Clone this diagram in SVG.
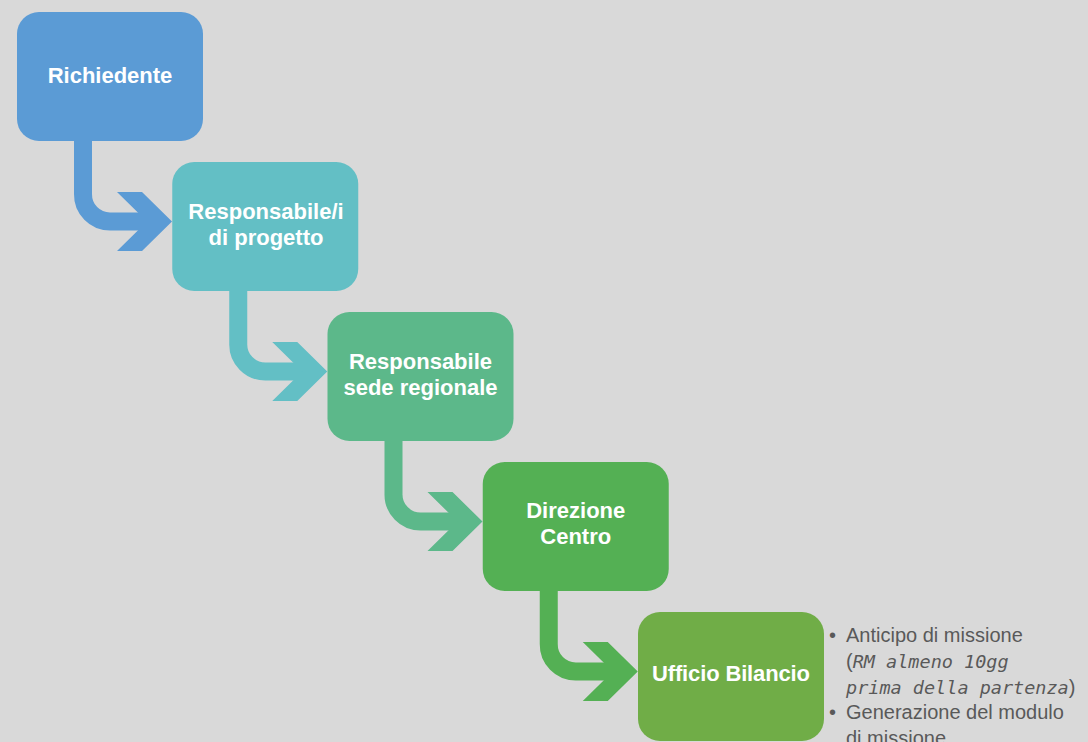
<svg xmlns="http://www.w3.org/2000/svg" xmlns:xlink="http://www.w3.org/1999/xlink" width="1088" height="742" viewBox="0 0 1088 742">
  <style>
    .box { stroke: none; }
    .lbl { font-family: "Liberation Sans", Arial, sans-serif; font-weight: bold; font-size: 22px; fill: #ffffff; text-anchor: middle; }
    .note { font-family: "Liberation Sans", Arial, sans-serif; font-size: 20px; fill: #595959; }
    .mono { font-family: "DejaVu Sans Mono", "Liberation Mono", monospace; font-style: italic; font-size: 18.5px; }
  </style>
  <defs>
    <!-- bent arrow: drops from a box bottom, turns right, ends in a chevron -->
    <g id="bend">
      <path d="M83 141 V194 A27 27 0 0 0 110 221.5 H150" fill="none" stroke="currentColor" stroke-width="18"/>
      <polygon points="117,192 142,192 172,221.5 142,251 117,251 147,221.5" fill="currentColor"/>
    </g>
  </defs>

  <rect width="1088" height="742" fill="#d9d9d9"/>

  <g id="connectors">
    <use xlink:href="#bend" href="#bend" x="0" y="0" style="color:#5b9bd5"/>
    <use xlink:href="#bend" href="#bend" x="155.25" y="150" style="color:#63bfc5"/>
    <use xlink:href="#bend" href="#bend" x="310.5" y="300" style="color:#5cb88a"/>
    <use xlink:href="#bend" href="#bend" x="465.75" y="450" style="color:#54b054"/>
  </g>

  <g id="richiedente">
    <rect class="box" x="17" y="12" width="186" height="129" rx="22" fill="#5b9bd5"/>
    <text class="lbl" x="110" y="83">Richiedente</text>
  </g>

  <g id="responsabile-progetto">
    <rect class="box" x="172.25" y="162" width="186" height="129" rx="22" fill="#63bfc5"/>
    <text class="lbl" x="266" y="218.5">Responsabile/i</text>
    <text class="lbl" x="266" y="245">di progetto</text>
  </g>

  <g id="responsabile-sede">
    <rect class="box" x="327.5" y="312" width="186" height="129" rx="22" fill="#5cb88a"/>
    <text class="lbl" x="420.5" y="368.5">Responsabile</text>
    <text class="lbl" x="420.5" y="395">sede regionale</text>
  </g>

  <g id="direzione-centro">
    <rect class="box" x="482.75" y="462" width="186" height="129" rx="22" fill="#54b054"/>
    <text class="lbl" x="575.75" y="517.5">Direzione</text>
    <text class="lbl" x="575.75" y="544">Centro</text>
  </g>

  <g id="ufficio-bilancio">
    <rect class="box" x="638" y="612" width="186" height="129" rx="22" fill="#70ad47"/>
    <text class="lbl" x="731" y="681" textLength="158">Ufficio Bilancio</text>
  </g>

  <g id="notes">
    <text class="note" x="829" y="642">•</text>
    <text class="note" x="846" y="642">Anticipo di missione</text>
    <text class="note" x="846" y="668">(<tspan class="mono">RM almeno 10gg</tspan></text>
    <text class="note" x="846" y="694"><tspan class="mono">prima della partenza</tspan>)</text>
    <text class="note" x="829" y="719">•</text>
    <text class="note" x="846" y="719">Generazione del modulo</text>
    <text class="note" x="846" y="745">di missione</text>
  </g>
</svg>
